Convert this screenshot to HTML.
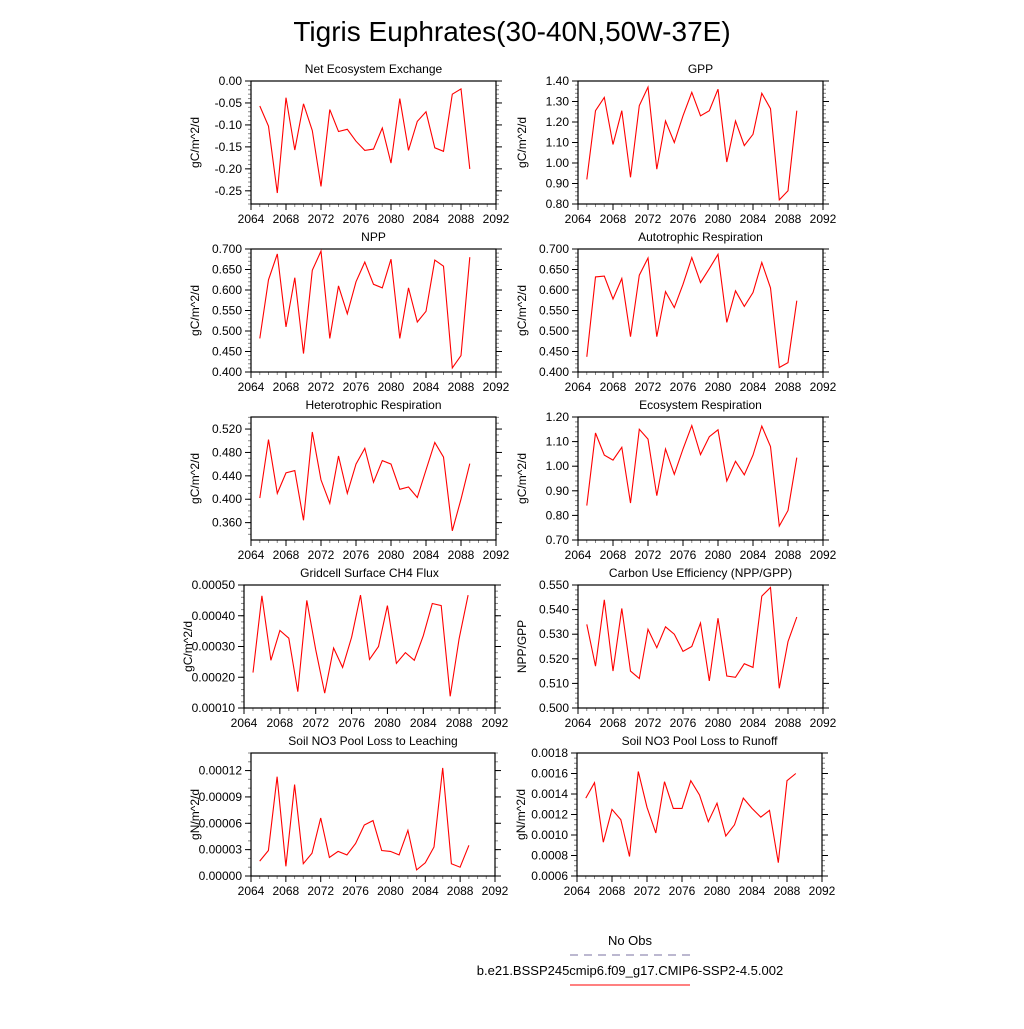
<!DOCTYPE html>
<html><head><meta charset="utf-8"><style>
body{margin:0;background:#fff;width:1024px;height:1024px;overflow:hidden}
svg text{font-family:"Liberation Sans",sans-serif;fill:#000}
</style></head><body>
<svg id="chart" width="1024" height="1024" viewBox="0 0 1024 1024">
<text x="512" y="41" font-size="28" text-anchor="middle">Tigris Euphrates(30-40N,50W-37E)</text>
<g>
<text x="630" y="945" font-size="13" text-anchor="middle">No Obs</text>
<line x1="570" y1="955" x2="690" y2="955" stroke="#7a70a0" stroke-width="1" stroke-dasharray="8,6"/>
<text x="630" y="975" font-size="13" text-anchor="middle">b.e21.BSSP245cmip6.f09_g17.CMIP6-SSP2-4.5.002</text>
<line x1="570" y1="985" x2="690" y2="985" stroke="#ff0000" stroke-width="1"/>
</g>
</svg>
<script>
const years=[2065,2066,2067,2068,2069,2070,2071,2072,2073,2074,2075,2076,2077,2078,2079,2080,2081,2082,2083,2084,2085,2086,2087,2088,2089];
const xTicks=[2064,2068,2072,2076,2080,2084,2088,2092];
const neeValues=[-0.057,-0.103,-0.255,-0.038,-0.157,-0.052,-0.113,-0.240,-0.065,-0.115,-0.110,-0.137,-0.158,-0.155,-0.107,-0.187,-0.040,-0.158,-0.092,-0.070,-0.152,-0.160,-0.030,-0.018,-0.200];
const gppValues=[0.92,1.255,1.32,1.09,1.255,0.93,1.28,1.37,0.97,1.205,1.10,1.23,1.345,1.23,1.255,1.36,1.005,1.205,1.085,1.14,1.34,1.265,0.82,0.865,1.255];
const nppValues=[0.482,0.625,0.688,0.510,0.630,0.445,0.648,0.695,0.482,0.610,0.542,0.620,0.668,0.614,0.605,0.675,0.482,0.605,0.522,0.548,0.673,0.658,0.410,0.440,0.680];
const arValues=[0.437,0.632,0.634,0.578,0.628,0.486,0.636,0.678,0.486,0.596,0.557,0.614,0.679,0.618,0.652,0.687,0.521,0.598,0.560,0.594,0.667,0.605,0.411,0.423,0.574];
const hrValues=[0.402,0.502,0.410,0.445,0.449,0.364,0.515,0.433,0.393,0.474,0.410,0.460,0.487,0.429,0.466,0.460,0.417,0.421,0.403,0.450,0.497,0.472,0.346,0.400,0.461];
const erValues=[0.84,1.135,1.045,1.025,1.077,0.85,1.15,1.11,0.88,1.07,0.967,1.07,1.165,1.047,1.12,1.148,0.94,1.02,0.965,1.045,1.163,1.08,0.757,0.82,1.035];
const ch4Values=[0.000215,0.000465,0.000255,0.000352,0.000327,0.000153,0.00045,0.00029,0.000148,0.000295,0.000232,0.00033,0.000467,0.000258,0.0003,0.000433,0.000245,0.00028,0.000255,0.000335,0.00044,0.000433,0.000138,0.000325,0.000467];
const cueValues=[0.534,0.517,0.544,0.515,0.5405,0.515,0.512,0.532,0.5245,0.533,0.530,0.523,0.525,0.5345,0.511,0.5365,0.513,0.5125,0.518,0.5165,0.5455,0.549,0.508,0.527,0.537];
const leachValues=[0.000017,0.000029,0.000113,0.000011,0.000104,0.000014,0.000026,0.000066,0.000021,0.000028,0.000024,0.000037,0.000058,0.000063,0.000029,0.000028,0.000024,0.000052,0.000007,0.000015,0.000033,0.000123,0.000014,0.000010,0.000035];
const runoffValues=[0.00136,0.00151,0.00093,0.00125,0.00115,0.00079,0.00162,0.00127,0.00102,0.00152,0.00126,0.00126,0.00153,0.00139,0.00113,0.00131,0.00099,0.00110,0.00136,0.00126,0.001175,0.00124,0.00073,0.00153,0.00160];
const neeTicks=[0,-0.05,-0.10,-0.15,-0.20,-0.25];
const gppTicks=[0.8,0.9,1.0,1.1,1.2,1.3,1.4];
const nppTicks=[0.4,0.45,0.5,0.55,0.6,0.65,0.7];
const hrTicks=[0.36,0.40,0.44,0.48,0.52];
const erTicks=[0.7,0.8,0.9,1.0,1.1,1.2];
const ch4Ticks=[0.0001,0.0002,0.0003,0.0004,0.0005];
const cueTicks=[0.5,0.51,0.52,0.53,0.54,0.55];
const leachTicks=[0,0.00003,0.00006,0.00009,0.00012];
const runoffTicks=[0.0006,0.0008,0.0010,0.0012,0.0014,0.0016,0.0018];

const panels=[
 {name:'nee',title:'Net Ecosystem Exchange',ylab:'gC/m^2/d',vals:neeValues,ticks:neeTicks,dec:2,ymin:-0.28,ymax:0,minor:0.01,x0:251,x1:496,row:0},
 {name:'gpp',title:'GPP',ylab:'gC/m^2/d',vals:gppValues,ticks:gppTicks,dec:2,ymin:0.8,ymax:1.4,minor:0.02,x0:578,x1:823,row:0},
 {name:'npp',title:'NPP',ylab:'gC/m^2/d',vals:nppValues,ticks:nppTicks,dec:3,ymin:0.4,ymax:0.7,minor:0.01,x0:251,x1:496,row:1},
 {name:'autotrophic-respiration',title:'Autotrophic Respiration',ylab:'gC/m^2/d',vals:arValues,ticks:nppTicks,dec:3,ymin:0.4,ymax:0.7,minor:0.01,x0:578,x1:823,row:1},
 {name:'heterotrophic-respiration',title:'Heterotrophic Respiration',ylab:'gC/m^2/d',vals:hrValues,ticks:hrTicks,dec:3,ymin:0.3303,ymax:0.5406,minor:0.01,x0:251,x1:496,row:2},
 {name:'ecosystem-respiration',title:'Ecosystem Respiration',ylab:'gC/m^2/d',vals:erValues,ticks:erTicks,dec:2,ymin:0.7,ymax:1.2,minor:0.02,x0:578,x1:823,row:2},
 {name:'ch4-flux',title:'Gridcell Surface CH4 Flux',ylab:'gC/m^2/d',vals:ch4Values,ticks:ch4Ticks,dec:5,ymin:0.0001,ymax:0.0005,minor:0.00002,x0:244,x1:495,row:3},
 {name:'carbon-use-efficiency',title:'Carbon Use Efficiency (NPP/GPP)',ylab:'NPP/GPP',vals:cueValues,ticks:cueTicks,dec:3,ymin:0.5,ymax:0.55,minor:0.002,x0:578,x1:823,row:3},
 {name:'no3-leaching',title:'Soil NO3 Pool Loss to Leaching',ylab:'gN/m^2/d',vals:leachValues,ticks:leachTicks,dec:5,ymin:0,ymax:0.00014,minor:0.00001,x0:251,x1:495,row:4},
 {name:'no3-runoff',title:'Soil NO3 Pool Loss to Runoff',ylab:'gN/m^2/d',vals:runoffValues,ticks:runoffTicks,dec:4,ymin:0.0006,ymax:0.0018,minor:0.00005,x0:577,x1:822,row:4}
];
const rowTops=[81,249,417,585,753];
const PH=123;
const NS='http://www.w3.org/2000/svg';
const svg=document.getElementById('chart');
function mk(tag,attrs,parent){const e=document.createElementNS(NS,tag);for(const k in attrs)e.setAttribute(k,attrs[k]);parent.appendChild(e);return e;}
panels.forEach(p=>{
 const top=rowTops[p.row],bot=top+PH;
 const xs=v=>p.x0+(v-2064)/(2092-2064)*(p.x1-p.x0);
 const ys=v=>bot-(v-p.ymin)/(p.ymax-p.ymin)*PH;
 const g=mk('g',{},svg);
 
 
 const t=mk('text',{x:(p.x0+p.x1)/2,y:top-8,'font-size':12,'text-anchor':'middle'},g);t.textContent=p.title;
 
 
 const yl=mk('text',{x:0,y:0,'font-size':12,'text-anchor':'middle',transform:`translate(${p.x0-52},${top+PH/2}) rotate(-90)`},g);yl.textContent=p.ylab;
 
 
 // minor y ticks
 const start=Math.ceil(p.ymin/p.minor-1e-6);
 for(let i=start;i*p.minor<=p.ymax+1e-12;i++){const v=i*p.minor;const y=ys(v);
  const m1=mk('line',{x1:p.x0-3,x2:p.x0,y1:y,y2:y,stroke:'#888','stroke-width':1},g);
  
  
  const m2=mk('line',{x1:p.x1,x2:p.x1+3,y1:y,y2:y,stroke:'#888','stroke-width':1},g);
  
  }
 p.ticks.forEach(v=>{const y=ys(v);
  const a=mk('line',{x1:p.x0-6,x2:p.x0,y1:y,y2:y,stroke:'#000','stroke-width':1},g);
  
  
  const b=mk('line',{x1:p.x1,x2:p.x1+6,y1:y,y2:y,stroke:'#000','stroke-width':1},g);
  
  
  const l=mk('text',{x:p.x0-9,y:y+4,'font-size':12,'text-anchor':'end'},g);l.textContent=v.toFixed(p.dec);
  
  });
 for(let yr=2064;yr<=2092;yr++){const x=xs(yr);const maj=(yr%4===0);
  const k=mk('line',{x1:x,x2:x,y1:bot,y2:bot+(maj?6:3),stroke:maj?'#000':'#888','stroke-width':1},g);
  
  }
 xTicks.forEach(yr=>{const l=mk('text',{x:xs(yr),y:bot+19,'font-size':12,'text-anchor':'middle'},g);l.textContent=yr;
  
  });
 const fr=mk('rect',{x:p.x0,y:top,width:p.x1-p.x0,height:PH,fill:'none',stroke:'#000','stroke-width':1.2},g);
 
 
 const pts=years.map((yr,i)=>xs(yr).toFixed(1)+','+ys(p.vals[i]).toFixed(1)).join(' ');
 const ln=mk('polyline',{points:pts,fill:'none',stroke:'#ff0000','stroke-width':1.1},g);
 
 
});
</script>
</body></html>
